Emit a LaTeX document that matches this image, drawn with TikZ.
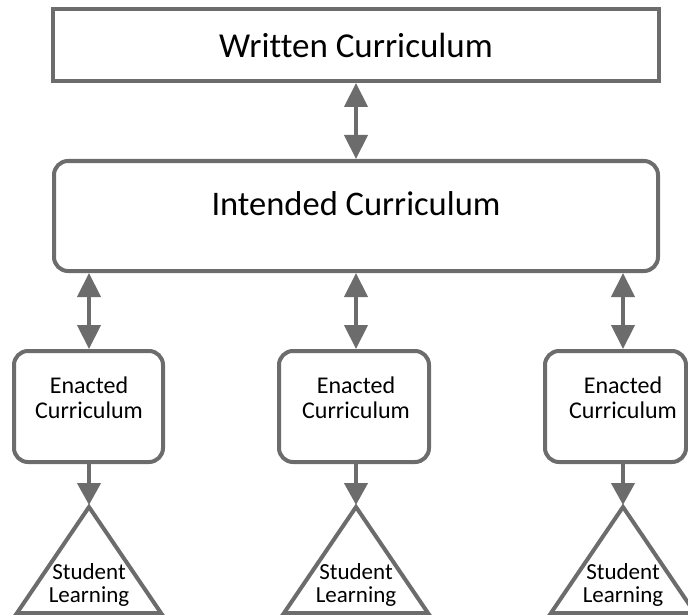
\documentclass[tikz,border=0pt]{standalone}
\usepackage{fontspec}
\setmainfont[Ligatures=NoCommon]{Carlito}
\usetikzlibrary{arrows.meta}
\definecolor{linegray}{RGB}{108,108,108}
\begin{document}
\begin{tikzpicture}[x=1pt,y=-1pt,
  frame/.style={draw=linegray,line width=4pt,fill=white,inner sep=0pt},
  roundframe/.style={frame,rounded corners=14pt},
  enactbox/.style={roundframe,minimum height=111pt},
  boxtext/.style={align=center,inner sep=0pt,font=\fontsize{24}{25.5}\selectfont},
  learntext/.style={align=center,inner sep=0pt,font=\fontsize{23}{22.5}\selectfont},
  twoway/.style={draw=linegray,line width=4.3pt,
    {Triangle[width=23pt,length=24pt]}-{Triangle[width=23pt,length=24pt]}},
  oneway/.style={draw=linegray,line width=4.3pt,-{Triangle[width=23pt,length=22pt]}},
  learn/.style={draw=linegray,line width=4pt,line join=miter},
]
\useasboundingbox (0,0) rectangle (688,615);

% top level documents
\node[frame,minimum width=606pt,minimum height=72pt,
      font=\fontsize{35}{40}\selectfont] (written) at (356,45) {Written Curriculum};
\node[roundframe,minimum width=604pt,minimum height=110pt,
      font=\fontsize{34.5}{40}\selectfont,text height=23pt,text depth=25pt]
      (intended) at (356,216) {Intended Curriculum};

% column axes
\coordinate (col1) at (89,406.5);
\coordinate (col2) at (356,406.5);
\coordinate (col3) at (623,406.5);

% classroom level
\node[enactbox,minimum width=149pt] (enact1) at (88.5,406.5) {};
\node[enactbox,minimum width=150pt] (enact2) at (354,406.5) {};
\node[enactbox,minimum width=141pt] (enact3) at (615.5,406.5) {};
\node[boxtext] (etext1) at ([yshift=8.5pt]col1) {Enacted\\Curriculum};
\node[boxtext] (etext2) at ([yshift=8.5pt]col2) {Enacted\\Curriculum};
\node[boxtext] (etext3) at ([yshift=8.5pt]col3) {Enacted\\Curriculum};

% learning outcomes
\coordinate (apex1) at (89,507);
\coordinate (apex2) at (356,507);
\coordinate (apex3) at (623,507);
\foreach \i in {1,2,3}{
  \draw[learn] (apex\i) -- ++(-72,106) -- ++(144,0) -- cycle;
}
\node[learntext] (ltext1) at ([yshift=-78pt]apex1) {Student\\Learning};
\node[learntext] (ltext2) at ([yshift=-78pt]apex2) {Student\\Learning};
\node[learntext] (ltext3) at ([yshift=-78pt]apex3) {Student\\Learning};

% links
\draw[twoway] (written) -- (intended);
\foreach \i in {1,2,3}{
  \draw[twoway] (intended.south -| col\i) -- (enact\i.north -| col\i);
  \draw[oneway] (enact\i.south -| col\i) -- ([yshift=2pt]apex\i);
}
\end{tikzpicture}
\end{document}
